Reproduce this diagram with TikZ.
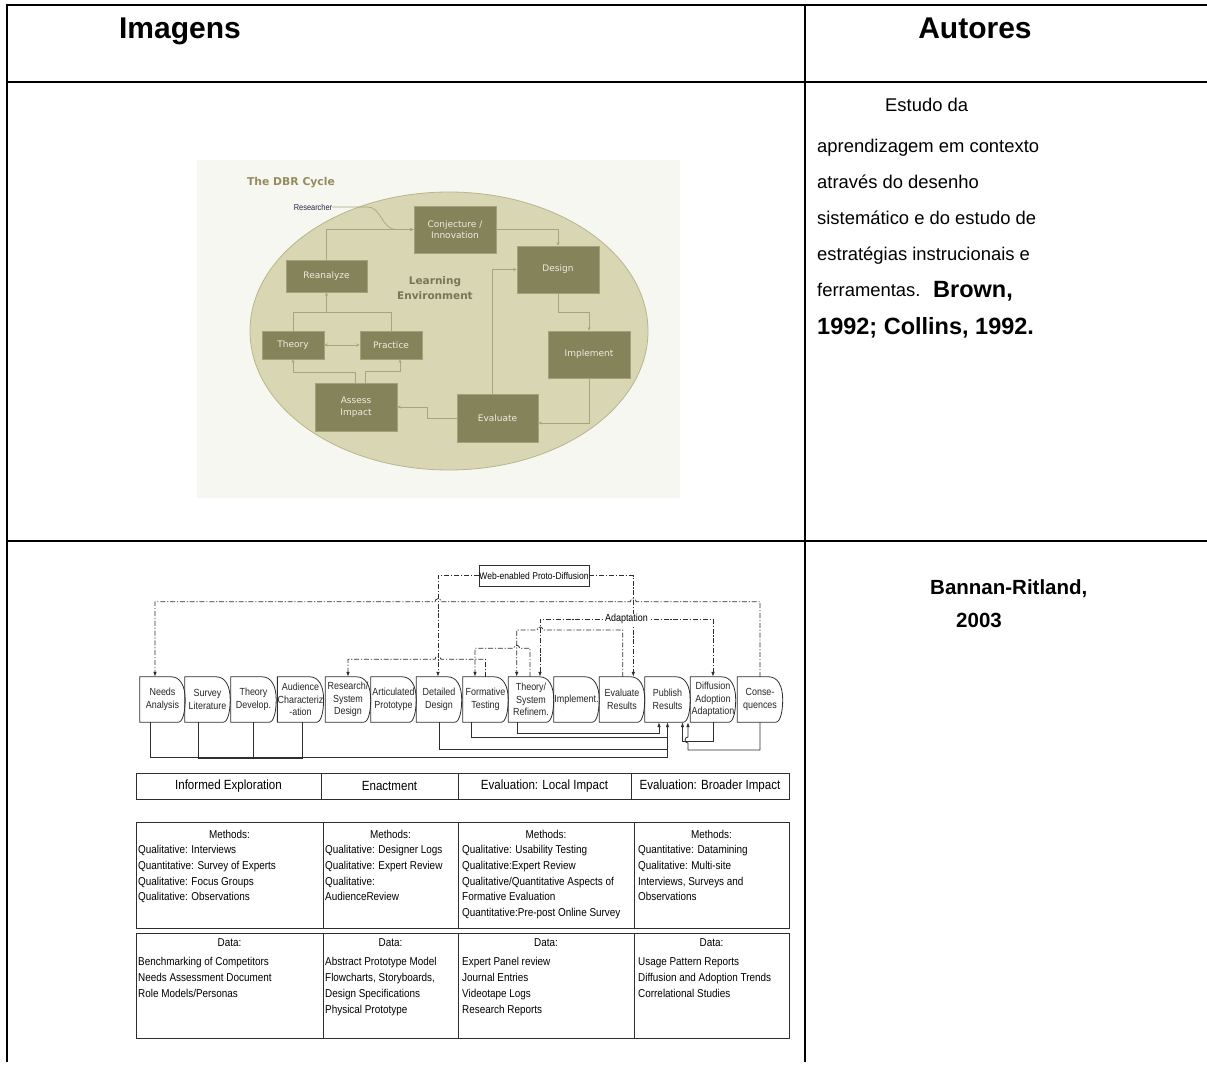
\documentclass[tikz,border=0pt]{standalone}
\usepackage{fontspec}
\setmainfont{Liberation Sans}
\newfontfamily\narrowsans[FakeStretch=0.87]{Liberation Sans}
\newfontfamily\dbrsans{DejaVu Sans}
\usetikzlibrary{arrows.meta,calc}

\definecolor{ellfill}{HTML}{D9D7B3}
\definecolor{ellline}{HTML}{B8B58F}
\definecolor{boxfill}{HTML}{85835A}
\definecolor{boxedge}{HTML}{A3A17C}
\definecolor{boxtext}{HTML}{EDEDE0}
\definecolor{olink}{HTML}{A8A57E}
\definecolor{titleol}{HTML}{968C62}
\definecolor{envtext}{HTML}{7A7556}
\definecolor{researcher}{HTML}{22264A}
\definecolor{dbrbg}{HTML}{F6F7F0}
\definecolor{flowline}{HTML}{2E2E2E}

\tikzset{
  rule/.style={line width=2.6pt},
  hair/.style={line width=1.2pt},
  heading/.style={anchor=base, inner sep=0pt, font=\bfseries\fontsize{30}{34}\selectfont},
  body/.style={anchor=base west, inner sep=0pt, font=\fontsize{18.4}{22}\selectfont},
  author/.style={anchor=base west, inner sep=0pt, font=\bfseries\fontsize{23.5}{26}\selectfont},
  author2/.style={anchor=base west, inner sep=0pt, font=\bfseries\fontsize{20.5}{24}\selectfont},
  dbrbox/.style={fill=boxfill, draw=boxedge, line width=0.6pt, text=boxtext, inner sep=0pt,
    align=center, font=\dbrsans\fontsize{9}{11.5}\selectfont},
  dbrlink/.style={draw=olink, line width=0.7pt},
  dbrtip/.style={-{Stealth[length=3.5pt,width=3pt]}},
  fbox/.style={minimum width=45pt, minimum height=45pt, inner sep=0pt, align=center,
    font=\narrowsans\fontsize{10.3}{12.8}\selectfont, text=black!85},
  fline/.style={draw=flowline, line width=0.8pt},
  fdash/.style={fline, dash pattern=on 5pt off 1.8pt on 1.2pt off 1.8pt},
  ftip/.style={-{Latex[length=5pt,width=3.6pt]}},
  phase/.style={draw=flowline, line width=0.8pt, minimum height=26pt, inner sep=0pt,
    font=\narrowsans\fontsize{13.3}{15}\selectfont},
  cell/.style={draw=flowline, line width=0.8pt, anchor=north west, inner sep=0pt},
  cellhead/.style={inner sep=0pt, font=\narrowsans\fontsize{11.4}{13}\selectfont},
  mlines/.style={anchor=north west, inner sep=0pt, align=left,
    font=\narrowsans\fontsize{11.4}{15.8}\selectfont},
}

\begin{document}
\begin{tikzpicture}[x=1pt,y=-1pt]
\useasboundingbox (0,0) rectangle (1207,1081);

% ---------- outer table ----------
\draw[rule] (5.7,5) -- (1207,5);
\draw[rule] (7,3.7) -- (7,1062);
\draw[rule] (7,82) -- (1207,82);
\draw[rule] (7,541) -- (116,541);
\draw[hair] (116,541) -- (1207,541);
\draw[hair] (805,5) -- (805,1062);

\node[heading] (hImg) at (180,39) {Imagens};
\node[heading] (hAut) at (975,39) {Autores};

\node[body] (t1) at (885,111) {Estudo da};
\node[body] (t2) at (817,152) {aprendizagem em contexto};
\node[body] (t3) at (817,188) {através do desenho};
\node[body] (t4) at (817,224) {sistemático e do estudo de};
\node[body] (t5) at (817,260) {estratégias instrucionais e};
\node[body] (t6) at (817,296) {ferramentas.};
\node[author] (a1) at (933,297) {Brown,};
\node[author] (a2) at (817,334) {1992; Collins, 1992.};
\node[author2] (a3) at (930,594) {Bannan-Ritland,};
\node[author2] (a4) at (956,627) {2003};

% ---------- the DBR cycle ----------
\fill[dbrbg] (197,160) rectangle (680,498);
\filldraw[fill=ellfill, draw=ellline, line width=0.8pt] (449,331) ellipse [x radius=199pt, y radius=139pt];

\node[font=\dbrsans\bfseries\fontsize{10.8}{12}\selectfont, text=titleol] (dbrtitle) at (291,183) {The DBR Cycle};
\node[font=\narrowsans\fontsize{8.5}{10}\selectfont, text=researcher, inner sep=0pt] (res) at (313,207) {Researcher};
\node[font=\dbrsans\bfseries\fontsize{10.5}{15}\selectfont, text=envtext, align=center] (env) at (435,288) {Learning\\Environment};

\node[dbrbox, minimum width=82pt, minimum height=47pt] (conj) at (455,229.5) {Conjecture /\\Innovation};
\node[dbrbox, minimum width=82pt, minimum height=47pt] (design) at (558,269.5) {Design};
\node[dbrbox, minimum width=81pt, minimum height=32pt] (reanal) at (326.5,276) {Reanalyze};
\node[dbrbox, minimum width=62pt, minimum height=28pt] (theory) at (293,345) {Theory};
\node[dbrbox, minimum width=62pt, minimum height=28pt] (practice) at (391,345) {Practice};
\node[dbrbox, minimum width=82pt, minimum height=47pt] (implement) at (589,354.5) {Implement};
\node[dbrbox, minimum width=82pt, minimum height=48pt] (assess) at (356,407) {Assess\\Impact};
\node[dbrbox, minimum width=81pt, minimum height=48pt] (evaluate) at (497.5,418) {Evaluate};

\draw[dbrlink, dbrtip] (res.east) -- (368,207) .. controls (381,207) and (382,229.5) .. (396,229.5) -- (conj.west);
\draw[dbrlink, dbrtip] (reanal.north) |- (conj.west);
\draw[dbrlink, dbrtip] (conj.east) -| (design.north);
\draw[dbrlink, dbrtip] (design.south) -- (558,312) -| (implement.north);
\draw[dbrlink, dbrtip] (implement.south) |- ([yshift=-5pt]evaluate.east);
\draw[dbrlink, dbrtip] (evaluate.west) -- (427,418) |- (assess.east);
\draw[dbrlink, dbrtip] ([xshift=-5.5pt]evaluate.north) |- (design.west);
\draw[dbrlink, {Stealth[length=3.5pt,width=3pt]}-{Stealth[length=3.5pt,width=3pt]}] (theory.east) -- (practice.west);
\draw[dbrlink] (theory.north) -- (293,312) -| (practice.north);
\draw[dbrlink, dbrtip] (326.5,312) -- (reanal.south);
\draw[dbrlink, dbrtip] ([xshift=-1pt]assess.north) -- ++(0,-10) -| (theory.south);
\draw[dbrlink, dbrtip] ([xshift=9pt]assess.north) -- ++(0,-11) -| ([xshift=9pt]practice.south);

% ---------- Bannan-Ritland process chain ----------
\node[fbox] (na)  at (162.5,699.5) {Needs\\Analysis};
\node[fbox] (sl)  at (207.5,699.5) {Survey\\Literature};
\node[fbox] (td)  at (253.5,699.5) {Theory\\Develop.};
\node[fbox] (ac)  at (300.5,699.5) {Audience\\Characteriz\\-ation};
\node[fbox] (rs)  at (348,699.5)   {Research/\\System\\Design};
\node[fbox] (ap)  at (393.5,699.5) {Articulated\\Prototype};
\node[fbox] (dd)  at (439,699.5)   {Detailed\\Design};
\node[fbox] (ft)  at (485.5,699.5) {Formative\\Testing};
\node[fbox] (tsr) at (531,699.5)   {Theory/\\System\\Refinem.};
\node[fbox] (im)  at (576.5,699.5) {Implement.};
\node[fbox] (er)  at (622,699.5)   {Evaluate\\Results};
\node[fbox] (pr)  at (667.5,699.5) {Publish\\Results};
\node[fbox] (dif) at (713,699.5)   {Diffusion\\Adoption\\Adaptation};
\node[fbox] (cq)  at (760,699.5)   {Conse-\\quences};

\foreach \b in {na,sl,td,ac,rs,ap,dd,ft,tsr,im,er,pr,dif,cq}{
  \draw[fline] (\b.south west) -- (\b.north west) -- ([xshift=-14pt]\b.north east)
    .. controls ([xshift=-5pt]\b.north east) and ([yshift=-9pt]\b.north east) .. (\b.east)
    .. controls ([yshift=12pt]\b.south east) and ([xshift=-2pt]\b.south east) .. ([xshift=-7pt]\b.south east) -- cycle;
}

\node[draw=flowline, line width=0.8pt, minimum width=110pt, minimum height=21pt, inner sep=0pt,
  font=\narrowsans\fontsize{9.8}{11}\selectfont] (wep) at (534,575.5) {Web-enabled Proto-Diffusion};

% dash-dot feedback paths (horizontal runs hop over crossings)
\draw[fdash, ftip] (cq.north) -- (760,601.7) -- (636.3,601.7) arc[start angle=0, end angle=180, radius=3pt]
  -- (441,601.7) arc[start angle=0, end angle=180, radius=3pt] -- (155,601.7) -- ([xshift=-7.5pt]na.north);
\draw[fdash, ftip] (wep.west) -| ([xshift=-1pt]dd.north);
\draw[fdash, ftip] (wep.east) -| ([xshift=11.3pt]er.north);
\draw[fdash, ftip] (ft.north) -- (485.5,659.3) -- (441,659.3) arc[start angle=0, end angle=180, radius=3pt]
  -- (348,659.3) -- (rs.north);
\draw[fdash, ftip] ([xshift=-1pt]tsr.north) -- (530,648.3) -- (519.7,648.3) arc[start angle=0, end angle=180, radius=3pt]
  -- (475,648.3) -- ([xshift=-10.5pt]ft.north);
\draw[fdash, ftip] ([xshift=0.7pt]er.north) -- (622.7,630) -- (543,630) arc[start angle=0, end angle=180, radius=3pt]
  -- (516.7,630) -- ([xshift=-14.3pt]tsr.north);
\draw[fdash, {Latex[length=5pt,width=3.6pt]}-{Latex[length=5pt,width=3.6pt]}] ([xshift=9pt]tsr.north) -- (540,619.3)
  -| node[pos=0.25, fill=white, inner sep=1pt, font=\narrowsans\fontsize{10.3}{11}\selectfont] (adapt) {Adaptation} (dif.north);

% solid return paths into Publish Results
\draw[fline, ftip] ([xshift=-12.5pt]na.south) -- (150,757) -| (pr.south);
\draw[fline] ([xshift=-9.5pt]sl.south) -- (198,758.5) -- (302,758.5) -- ([xshift=1.5pt]ac.south);
\draw[fline] (td.south) -- (253.5,758.5);
\draw[fline] (dd.south) -- (439,749) -- (667.5,749);
\draw[fline] ([xshift=-14.5pt]ft.south) -- (471,737) -- (667.5,737);
\draw[fline, ftip] ([xshift=-14pt]tsr.south) -- (517,733) -| ([xshift=-8.5pt]pr.south);
\draw[fline, ftip] (dif.south) -- (713,741) -| ([xshift=15pt]pr.south);
\draw[fline, ftip] (cq.south) -- (760,750) -- (688,750) -- (688,743) arc[start angle=270, end angle=90, radius=3pt]
  -- ([xshift=20.5pt]pr.south);

% phases
\node[phase, minimum width=185pt] (ph1) at (228.5,786) {Informed Exploration};
\node[phase, minimum width=137pt] (ph2) at (389.5,786) {Enactment};
\node[phase, minimum width=173pt] (ph3) at (544.5,786) {Evaluation: Local Impact};
\node[phase, minimum width=158pt] (ph4) at (710,786) {Evaluation: Broader Impact};

% methods
\node[cell, minimum width=187pt, minimum height=106pt] (m1) at (136,822) {};
\node[cell, minimum width=135pt, minimum height=106pt] (m2) at (323,822) {};
\node[cell, minimum width=176pt, minimum height=106pt] (m3) at (458,822) {};
\node[cell, minimum width=155pt, minimum height=106pt] (m4) at (634,822) {};
\node[cellhead] (m1h) at (229.5,834) {Methods:};
\node[cellhead] (m2h) at (390.5,834) {Methods:};
\node[cellhead] (m3h) at (546,834) {Methods:};
\node[cellhead] (m4h) at (711.5,834) {Methods:};
\node[mlines] (m1t) at (138,845) {Qualitative: Interviews\\Quantitative: Survey of Experts\\Qualitative: Focus Groups\\Qualitative: Observations};
\node[mlines] (m2t) at (325,845) {Qualitative: Designer Logs\\Qualitative: Expert Review\\Qualitative:\\AudienceReview};
\node[mlines] (m3t) at (462,845) {Qualitative: Usability Testing\\Qualitative:Expert Review\\Qualitative/Quantitative Aspects of\\Formative Evaluation\\Quantitative:Pre-post Online Survey};
\node[mlines] (m4t) at (638,845) {Quantitative: Datamining\\Qualitative: Multi-site\\Interviews, Surveys and\\Observations};

% data
\node[cell, minimum width=187pt, minimum height=105pt] (d1) at (136,933) {};
\node[cell, minimum width=135pt, minimum height=105pt] (d2) at (323,933) {};
\node[cell, minimum width=176pt, minimum height=105pt] (d3) at (458,933) {};
\node[cell, minimum width=155pt, minimum height=105pt] (d4) at (634,933) {};
\node[cellhead] (d1h) at (229.5,943) {Data:};
\node[cellhead] (d2h) at (390.5,943) {Data:};
\node[cellhead] (d3h) at (546,943) {Data:};
\node[cellhead] (d4h) at (711.5,943) {Data:};
\node[mlines] (d1t) at (138,957.5) {Benchmarking of Competitors\\Needs Assessment Document\\Role Models/Personas};
\node[mlines] (d2t) at (325,957.5) {Abstract Prototype Model\\Flowcharts, Storyboards,\\Design Specifications\\Physical Prototype};
\node[mlines] (d3t) at (462,957.5) {Expert Panel review\\Journal Entries\\Videotape Logs\\Research Reports};
\node[mlines] (d4t) at (638,957.5) {Usage Pattern Reports\\Diffusion and Adoption Trends\\Correlational Studies};

\end{tikzpicture}
\end{document}
